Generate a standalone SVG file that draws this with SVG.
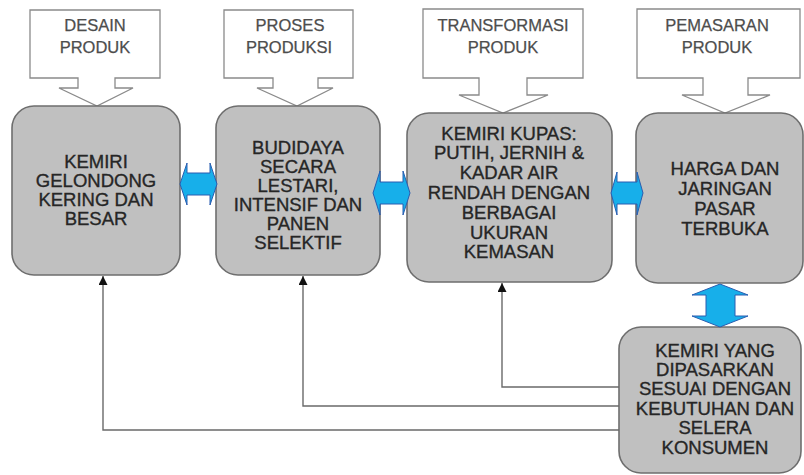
<svg xmlns="http://www.w3.org/2000/svg" width="804" height="475" viewBox="0 0 804 475">
<defs>
<style>
.callout{fill:#fff;stroke:#8a8a8a;stroke-width:1.3}
.ctext{font-family:"Liberation Sans",Arial,sans-serif;font-size:16.5px;fill:#4d4d4d;stroke:#4d4d4d;stroke-width:0.25;text-anchor:middle}
.box{fill:#c0c0c0;stroke:#6e6e6e;stroke-width:1.6}
.btext{font-family:"Liberation Sans",Arial,sans-serif;font-size:18.5px;fill:#262626;stroke:#262626;stroke-width:0.35;text-anchor:middle}
.blue{fill:#17afea;stroke:#2a5db0;stroke-width:1}
.fb{fill:none;stroke:#6a6a6a;stroke-width:1.4}
</style>
<marker id="ah" viewBox="0 0 10 10" refX="10" refY="5" markerWidth="9" markerHeight="9" markerUnits="userSpaceOnUse" orient="auto">
<path d="M0,0 L10,5 L0,10 z" fill="#111"/>
</marker>
</defs>
<rect width="804" height="475" fill="#fff"/>

<g id="callout-desain">
<path class="callout" d="M30,10 H160 V78 H115 V88 H133 L97,106 L59,88 H78 V78 H30 Z"/>
<text class="ctext" x="95" y="31">DESAIN</text>
<text class="ctext" x="95" y="53">PRODUK</text>
</g>
<g id="callout-proses">
<path class="callout" d="M224,10 H353 V78 H318 V88 H333 L297,106 L257,88 H273 V78 H224 Z"/>
<text class="ctext" x="290" y="31">PROSES</text>
<text class="ctext" x="289" y="53">PRODUKSI</text>
</g>
<g id="callout-transformasi">
<path class="callout" d="M423,9 H583 V78 H527 V95 H548 L503,113 L459,95 H479 V78 H423 Z"/>
<text class="ctext" x="503" y="31">TRANSFORMASI</text>
<text class="ctext" x="503" y="53">PRODUK</text>
</g>
<g id="callout-pemasaran">
<path class="callout" d="M637,9 H800 V78 H748 V95 H770 L725,113 L682,95 H703 V78 H637 Z"/>
<text class="ctext" x="717" y="31">PEMASARAN</text>
<text class="ctext" x="717" y="53">PRODUK</text>
</g>

<g id="box-kemiri-gelondong">
<rect class="box" x="12" y="106" width="168" height="169" rx="22"/>
<text class="btext" x="96" y="167.5">KEMIRI</text>
<text class="btext" x="96" y="186.5">GELONDONG</text>
<text class="btext" x="96" y="205.5">KERING DAN</text>
<text class="btext" x="96" y="224.5">BESAR</text>
</g>
<g id="box-budidaya">
<rect class="box" x="216" y="106" width="164" height="169" rx="22"/>
<text class="btext" x="298" y="153.5">BUDIDAYA</text>
<text class="btext" x="298" y="172.5">SECARA</text>
<text class="btext" x="298" y="191.5">LESTARI,</text>
<text class="btext" x="298" y="210.5">INTENSIF DAN</text>
<text class="btext" x="298" y="229.5">PANEN</text>
<text class="btext" x="298" y="248.5">SELEKTIF</text>
</g>
<g id="box-kemiri-kupas">
<rect class="box" x="407" y="113" width="205" height="169" rx="22"/>
<text class="btext" x="509" y="139.5">KEMIRI KUPAS:</text>
<text class="btext" x="509" y="159.3">PUTIH, JERNIH &amp;</text>
<text class="btext" x="509" y="179.1">KADAR AIR</text>
<text class="btext" x="509" y="198.9">RENDAH DENGAN</text>
<text class="btext" x="509" y="218.7">BERBAGAI</text>
<text class="btext" x="509" y="238.5">UKURAN</text>
<text class="btext" x="509" y="258.3">KEMASAN</text>
</g>
<g id="box-harga">
<rect class="box" x="636" y="113" width="167" height="170" rx="22"/>
<text class="btext" x="725" y="174.5">HARGA DAN</text>
<text class="btext" x="725" y="194.5">JARINGAN</text>
<text class="btext" x="725" y="214.5">PASAR</text>
<text class="btext" x="725" y="234.5">TERBUKA</text>
</g>
<g id="box-konsumen">
<rect class="box" x="619" y="327" width="182" height="146" rx="22"/>
<text class="btext" x="715" y="356.5">KEMIRI YANG</text>
<text class="btext" x="715" y="375.9">DIPASARKAN</text>
<text class="btext" x="715" y="395.3">SESUAI DENGAN</text>
<text class="btext" x="715" y="414.7">KEBUTUHAN DAN</text>
<text class="btext" x="715" y="434.1">SELERA</text>
<text class="btext" x="715" y="453.5">KONSUMEN</text>
</g>

<g id="connectors">
<path class="blue" d="M180,184 L187,163 V173 H210 V163 L217,184 L210,205 V195 H187 V205 Z"/>
<path class="blue" d="M373,193 L380,171 V182 H403 V171 L410,193 L403,215 V204 H380 V215 Z"/>
<path class="blue" d="M611,193 L617,172 V182 H637 V172 L643,193 L637,215 V204 H617 V215 Z"/>
<path class="blue" d="M720,284 L748,295 H735 V316 H748 L720,327 L692,316 H706 V295 H692 Z"/>
<path class="fb" d="M619,387 H502 V283" marker-end="url(#ah)"/>
<path class="fb" d="M619,406 H303 V276" marker-end="url(#ah)"/>
<path class="fb" d="M619,430 H103 V276" marker-end="url(#ah)"/>
</g>
</svg>
